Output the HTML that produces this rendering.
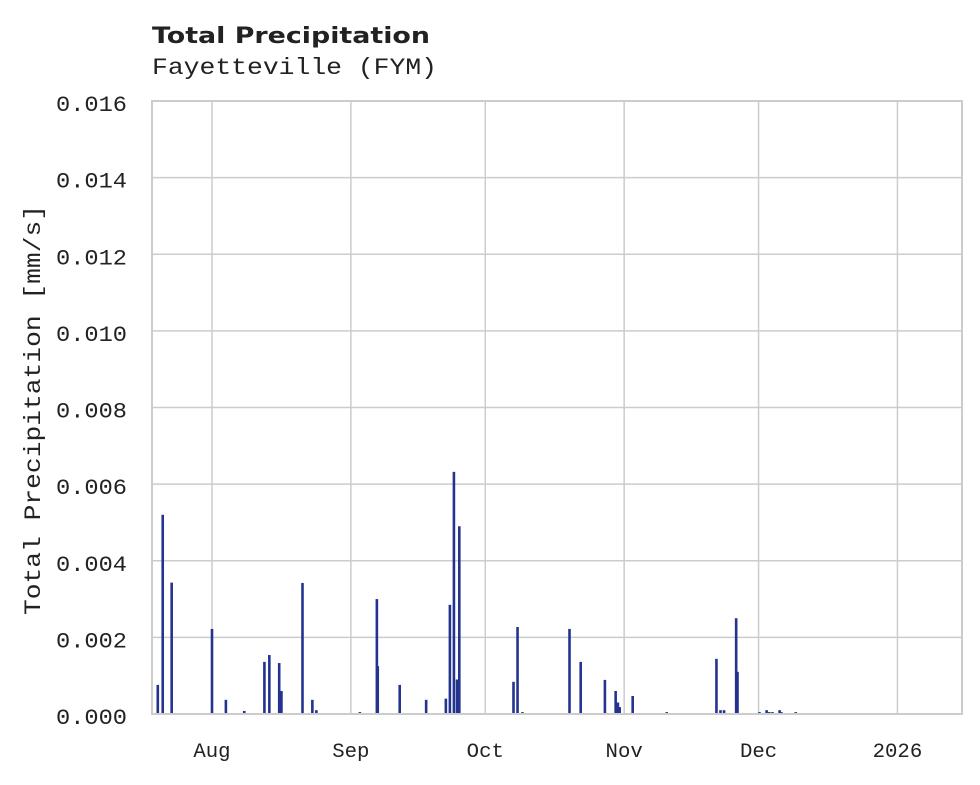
<!DOCTYPE html>
<html><head><meta charset="utf-8"><style>
body{margin:0;background:#fff;}
svg text{font-family:"Liberation Mono",monospace;fill:#222;}
</style></head><body>
<svg width="980" height="780">
<text x="152" y="43" textLength="278" lengthAdjust="spacingAndGlyphs" style="font-family:'DejaVu Sans','Liberation Sans',sans-serif;font-weight:bold;font-size:22px">Total Precipitation</text>
<text x="152" y="74" textLength="285" lengthAdjust="spacingAndGlyphs" style="font-size:23px">Fayetteville (FYM)</text>
<g id="grid"></g><g id="bars"></g><g id="axes"></g>
<text transform="translate(40,410) rotate(-90)" text-anchor="middle" textLength="410" lengthAdjust="spacingAndGlyphs" style="font-size:23px">Total Precipitation [mm/s]</text>
</svg>
<script>
const dayOffsets=[-12.1,-11.0,-9.0,0,3.1,7.2,11.7,12.8,15.0,15.5,20.2,22.4,23.3,33.0,36.8,37.0,41.9,47.8,52.2,53.1,54.0,54.7,55.2,67.3,68.2,69.3,79.8,82.3,87.7,90.1,90.6,91.0,93.9,101.5,112.6,113.5,114.3,117.0,117.3,122.2,123.8,124.4,125.1,126.7,127.1,130.3];
const values=[0.00076,0.0052,0.00343,0.00222,0.00037,0.00008,0.00136,0.00154,0.00133,0.0006,0.00342,0.00037,0.0001,0.00005,0.003,0.00125,0.00076,0.00037,0.0004,0.00285,0.00632,0.0009,0.0049,0.00084,0.00227,0.00005,0.00222,0.00136,0.00089,0.0006,0.0003,0.00018,0.00047,0.00005,0.00144,0.0001,0.0001,0.0025,0.0011,0.00005,0.0001,0.00005,0.00005,0.0001,0.00005,0.00005];
const yTicks=[0,0.002,0.004,0.006,0.008,0.010,0.012,0.014,0.016];
const xTickLabels=["Aug","Sep","Oct","Nov","Dec","2026"];
const xTickDays=[0,31,61,92,122,153];
const L=152,R=962,T=101,B=714;
const xs=d=>212+d*4.48;
const ys=v=>B-(v/0.016)*(B-T);
const NS="http://www.w3.org/2000/svg";
function mk(tag,attrs,parent){const e=document.createElementNS(NS,tag);for(const k in attrs)e.setAttribute(k,attrs[k]);document.getElementById(parent).appendChild(e);return e;}
yTicks.forEach((v,i)=>{
  const l=mk('line',{x1:L,x2:R,y1:ys(v),y2:ys(v),stroke:'#cccccc','stroke-width':1.5},'grid');
  
  
  const t=mk('text',{x:56,y:ys(v)+10,'font-size':22,textLength:71,lengthAdjust:'spacingAndGlyphs'},'axes');
  t.textContent=v.toFixed(3);
  
  
});
xTickDays.forEach((d,i)=>{
  const lab=xTickLabels[i];
  const l=mk('line',{x1:xs(d),x2:xs(d),y1:T,y2:B,stroke:'#cccccc','stroke-width':1.5},'grid');
  
  
  const w=lab.length*12.4;
  const t=mk('text',{x:xs(d)-w/2,y:757,'font-size':20,textLength:w,lengthAdjust:'spacingAndGlyphs'},'axes');
  t.textContent=lab;
  
  
});
const fr=mk('rect',{x:L,y:T,width:R-L,height:B-T,fill:'none',stroke:'#cccccc','stroke-width':2},'axes');


dayOffsets.forEach((d,i)=>{
  const y=ys(values[i]);
  const b=mk('rect',{x:xs(d)-1.3,y:y,width:2.6,height:Math.max(B-y,1),fill:'#24338f'},'bars');
  
  
});
</script>
</body></html>
